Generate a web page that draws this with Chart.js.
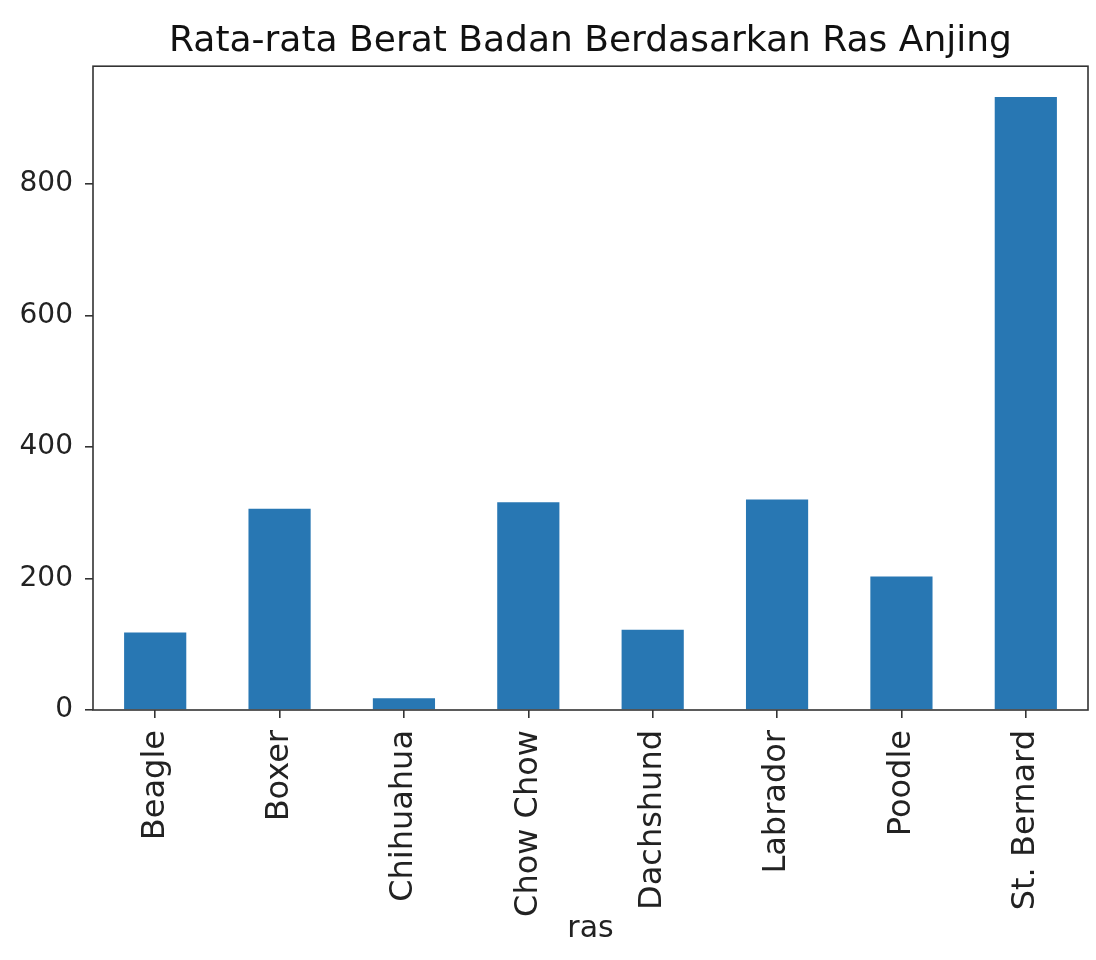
<!DOCTYPE html>
<html>
<head>
<meta charset="utf-8">
<script src="https://cdn.jsdelivr.net/npm/chart.js@4.4.0/dist/chart.umd.min.js"></script>
<style>
  html, body { margin: 0; padding: 0; background: #fff; }
  #wrap { width: 1096px; height: 960px; }
</style>
</head>
<body>
<div id="wrap"><canvas id="barChart" width="1096" height="960"></canvas></div>
<script>
// Data ras anjing
const ras = ['Beagle', 'Boxer', 'Chihuahua', 'Chow Chow', 'Dachshund', 'Labrador', 'Poodle', 'St. Bernard'];
const beratRata = [118, 306, 18, 316, 122, 320, 203, 932];
const yTicks = [0, 200, 400, 600, 800];

// Frame around the plot area (like matplotlib)
const frame = {
    id: 'frame',
    afterDraw(chart) {
        const a = chart.chartArea;
        const c = chart.ctx;
        c.save();
        c.strokeStyle = '#333';
        c.lineWidth = 1.6;
        c.strokeRect(a.left, a.top, a.right - a.left, a.bottom - a.top);
        c.restore();
    }
};

const config = {
    type: 'bar',
    data: {
        labels: ras,
        datasets: [{
            label: 'berat',
            data: beratRata,
            backgroundColor: '#2877b3',
            borderWidth: 0,
            categoryPercentage: 1.0,
            barPercentage: 0.5
        }]
    },
    options: {
        responsive: false,
        animation: false,
        layout: { padding: { left: 0, right: 8, top: 0, bottom: 0 } },
        plugins: {
            legend: { display: false },
            tooltip: { enabled: false },
            title: {
                display: true,
                fullSize: false,
                text: 'Rata-rata Berat Badan Berdasarkan Ras Anjing',
                color: '#111',
                font: { family: 'DejaVu Sans', size: 36, weight: 'normal' },
                padding: { top: 20, bottom: 3 }
            }
        },
        scales: {
            x: {
                grid: { offset: false, drawOnChartArea: false, drawTicks: true, tickLength: 8, color: '#333', lineWidth: 1.6 },
                border: { display: false },
                ticks: {
                    minRotation: 90, maxRotation: 90,
                    autoSkip: false,
                    padding: 12,
                    color: '#222',
                    font: { family: 'DejaVu Sans', size: 32 }
                },
                title: {
                    display: true,
                    text: 'ras',
                    color: '#222',
                    font: { family: 'DejaVu Sans', size: 30 },
                    padding: { top: 0, bottom: 13 }
                },
                afterFit(scale) { scale.height = 250; }
            },
            y: {
                min: 0,
                max: 979,
                grid: { drawOnChartArea: false, drawTicks: true, tickLength: 8, color: '#333', lineWidth: 1.6 },
                border: { display: false },
                afterBuildTicks(scale) { scale.ticks = yTicks.map(v => ({ value: v })); },
                ticks: {
                    padding: 12,
                    color: '#222',
                    font: { family: 'DejaVu Sans', size: 28 }
                },
                afterFit(scale) { scale.width = 93; }
            }
        }
    },
    plugins: [frame]
};

const ctx = document.getElementById('barChart').getContext('2d');
new Chart(ctx, config);
</script>
</body>
</html>
